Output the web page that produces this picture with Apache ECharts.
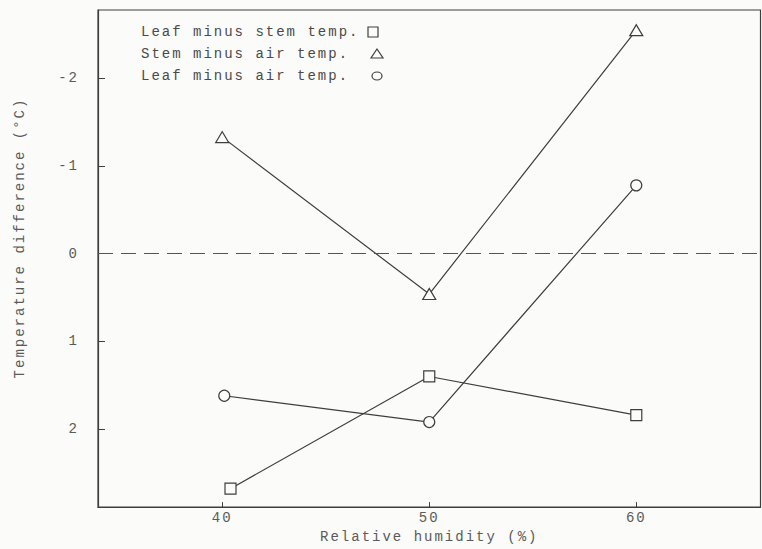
<!DOCTYPE html>
<html>
<head>
<meta charset="utf-8">
<script src="https://cdn.jsdelivr.net/npm/echarts@6/dist/echarts.min.js"></script>
<style>
  html, body { margin: 0; padding: 0; background: #fbfbf9; }
  #chart { width: 762px; height: 549px; }
  #chart text { letter-spacing: 2px; }
</style>
</head>
<body>
<div id="chart"></div>
<script>
// ---- data ----
const seriesNames = ['Leaf minus stem temp.', 'Stem minus air temp.', 'Leaf minus air temp.'];
const xTicks = [40, 50, 60];
const yTicks = [-2, -1, 0, 1, 2];
const leafStemX = [40.4, 50, 60];
const leafMinusStem = [2.68, 1.40, 1.84];
const stemAirX = [40, 50, 60];
const stemMinusAir = [-1.33, 0.46, -2.55];
const leafAirX = [40.1, 50, 60];
const leafMinusAir = [1.62, 1.92, -0.78];
const xTitle = 'Relative humidity (%)';
const yTitle = 'Temperature difference (°C)';

// ---- chart ----
const ink = '#3e3e3e';
const txt = '#5a5a5a';
const bg = '#fbfbf9';
const font = '"Liberation Mono", "DejaVu Sans Mono", monospace';
const pairs = (xs, ys) => xs.map((x, i) => [x, ys[i]]);

const chart = echarts.init(document.getElementById('chart'), null, { renderer: 'svg' });

function lineSeries(name, symbol, xs, ys, extra) {
  return Object.assign({
    name: name,
    type: 'line',
    data: pairs(xs, ys),
    symbol: symbol,
    symbolSize: 11,
    showSymbol: true,
    lineStyle: { color: ink, width: 1.2 },
    itemStyle: { color: bg, borderColor: ink, borderWidth: 1.2 },
    emphasis: { disabled: true },
    z: 3
  }, extra || {});
}

// legend drawn as graphic: text left-aligned, symbol column on the right
const legendY = [32, 54, 76];
const legendGraphic = [];
seriesNames.forEach((n, i) => {
  legendGraphic.push({
    type: 'text', x: 141, y: legendY[i],
    style: { text: n, fontFamily: font, fontSize: 14, fill: '#4a4a4a', align: 'left', verticalAlign: 'middle' }
  });
});
legendGraphic.push(
  { type: 'rect', shape: { x: 368, y: legendY[0] - 5, width: 10, height: 10 },
    style: { fill: 'none', stroke: ink, lineWidth: 1.2 } },
  { type: 'polygon', shape: { points: [[377, legendY[1] - 5], [383, legendY[1] + 4], [371, legendY[1] + 4]] },
    style: { fill: 'none', stroke: ink, lineWidth: 1.2 } },
  { type: 'ellipse', shape: { cx: 377, cy: legendY[2], rx: 5, ry: 4 },
    style: { fill: 'none', stroke: ink, lineWidth: 1.2 } }
);

chart.setOption({
  backgroundColor: bg,
  animation: false,
  grid: {
    left: 98, right: 1.5, top: 10, bottom: 40,
    show: true, borderColor: ink, borderWidth: 1.2, backgroundColor: 'transparent'
  },
  xAxis: {
    type: 'value',
    min: 34, max: 66,
    name: xTitle,
    nameLocation: 'middle',
    nameGap: 22,
    nameTextStyle: { fontFamily: font, fontSize: 14, color: txt },
    axisLine: { show: true, onZero: false, lineStyle: { color: ink, width: 1.2 } },
    axisTick: { show: true, inside: true, length: 5, lineStyle: { color: ink }, customValues: xTicks },
    axisLabel: {
      margin: 4,
      fontFamily: font, fontSize: 14, color: txt,
      customValues: xTicks
    },
    splitLine: { show: false }
  },
  yAxis: {
    type: 'value',
    inverse: true,
    min: -2.78, max: 2.89,
    axisLine: { show: true, onZero: false, lineStyle: { color: ink, width: 1.2 } },
    axisTick: { show: true, inside: true, length: 7, lineStyle: { color: ink }, customValues: yTicks },
    axisLabel: {
      margin: 19,
      fontFamily: font, fontSize: 14, color: txt,
      customValues: yTicks
    },
    splitLine: { show: false }
  },
  graphic: [{
    type: 'text',
    x: 20, y: 238,
    rotation: Math.PI / 2,
    style: {
      text: yTitle,
      fontFamily: font, fontSize: 14, fill: txt,
      align: 'center', verticalAlign: 'middle'
    }
  }].concat(legendGraphic),
  series: [
    lineSeries(seriesNames[0], 'rect', leafStemX, leafMinusStem, {
      markLine: {
        silent: true,
        symbol: ['none', 'none'],
        label: { show: false },
        lineStyle: { color: '#555', width: 1.2, type: [15, 8] },
        data: [{ yAxis: 0 }]
      }
    }),
    lineSeries(seriesNames[1], 'triangle', stemAirX, stemMinusAir, { symbolSize: [13, 11] }),
    lineSeries(seriesNames[2], 'circle', leafAirX, leafMinusAir)
  ]
});
</script>
</body>
</html>
